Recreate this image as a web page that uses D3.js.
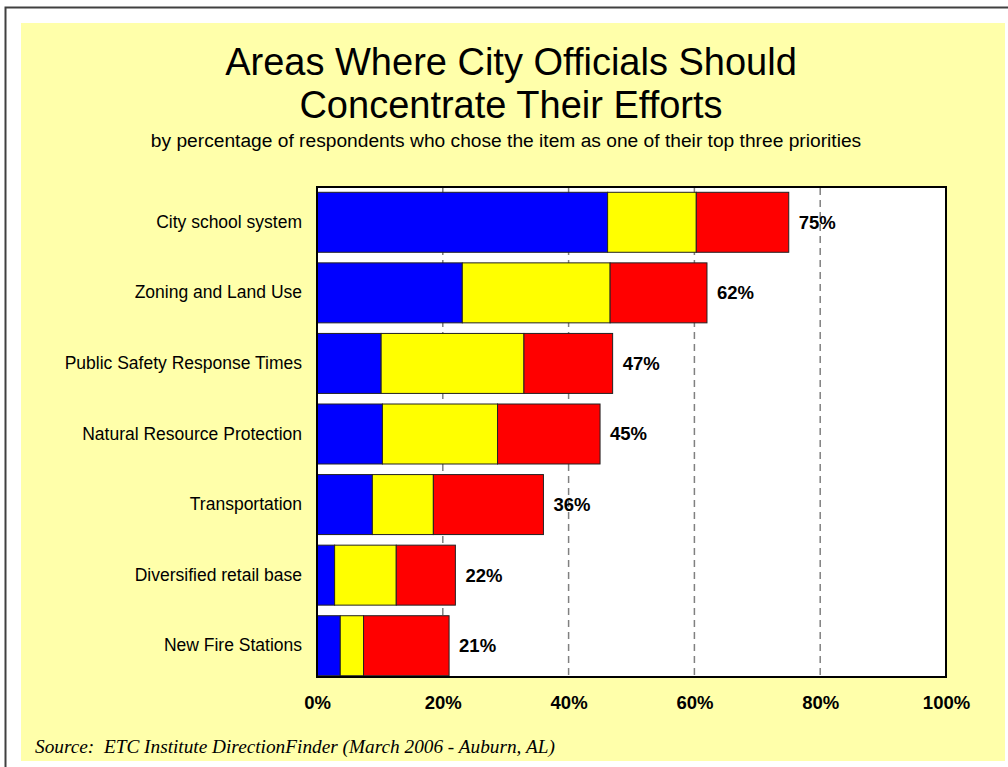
<!DOCTYPE html>
<html>
<head>
<meta charset="utf-8">
<script src="https://cdn.jsdelivr.net/npm/d3@7"></script>
<style>
  html, body { margin: 0; padding: 0; background: #ffffff; }
  svg { display: block; font-family: Arial, "Liberation Sans", sans-serif; }
</style>
</head>
<body>
<svg id="chart" width="1008" height="767"></svg>
<script>
// Survey items, top to bottom
const categories = [
  "City school system",
  "Zoning and Land Use",
  "Public Safety Response Times",
  "Natural Resource Protection",
  "Transportation",
  "Diversified retail base",
  "New Fire Stations"
];
// Percent choosing the item as 1st, 2nd and 3rd priority
const firstChoice  = [46.2, 23.1, 10.2, 10.4,  8.8, 2.8, 3.7];
const secondChoice = [14.1, 23.5, 22.7, 18.3,  9.7, 9.8, 3.7];
const thirdChoice  = [14.7, 15.4, 14.1, 16.3, 17.5, 9.4, 13.6];
const tickValues = [0, 20, 40, 60, 80, 100];
const gridValues = [20, 40, 60, 80];

const seriesKeys = ["first", "second", "third"];
const seriesColors = { first: "#0000ff", second: "#ffff00", third: "#ff0000" };

const rows = categories.map((c, i) => ({
  category: c,
  first: firstChoice[i],
  second: secondChoice[i],
  third: thirdChoice[i],
  total: firstChoice[i] + secondChoice[i] + thirdChoice[i]
}));

const svg = d3.select("#chart");

// Slide frame and panel
svg.append("path")
  .attr("d", "M5.5,767 V7.5 H1008")
  .attr("fill", "none")
  .attr("stroke", "#404040")
  .attr("stroke-width", 2);
svg.append("rect")
  .attr("x", 21).attr("y", 23)
  .attr("width", 984).attr("height", 738)
  .attr("fill", "#ffffaa");

// Title block
const titleLines = ["Areas Where City Officials Should", "Concentrate Their Efforts"];
svg.selectAll("text.title")
  .data(titleLines)
  .join("text")
  .attr("class", "title")
  .attr("x", 511)
  .attr("y", (d, i) => 75 + i * 43)
  .attr("text-anchor", "middle")
  .attr("font-size", 38)
  .attr("fill", "#000")
  .text(d => d);

svg.append("text")
  .attr("x", 506)
  .attr("y", 147)
  .attr("text-anchor", "middle")
  .attr("font-size", 19.2)
  .attr("fill", "#000")
  .text("by percentage of respondents who chose the item as one of their top three priorities");

// Scales
const x = d3.scaleLinear().domain([0, 100]).range([317, 946]);
const y = d3.scaleBand()
  .domain(categories)
  .range([187, 681])
  .paddingInner(0.15)
  .paddingOuter(0.075);

// Plot area
const plotTop = 187, plotBottom = 677;
svg.append("rect")
  .attr("x", x(0)).attr("y", plotTop)
  .attr("width", x(100) - x(0)).attr("height", plotBottom - plotTop)
  .attr("fill", "#ffffff");

// Dashed gridlines
svg.append("g")
  .selectAll("line")
  .data(gridValues)
  .join("line")
  .attr("x1", d => x(d)).attr("x2", d => x(d))
  .attr("y1", plotTop + 1).attr("y2", plotBottom - 1)
  .attr("stroke", "#808080")
  .attr("stroke-width", 1.5)
  .attr("stroke-dasharray", "7,5");

// Stacked bars
const stacked = d3.stack().keys(seriesKeys)(rows);
svg.append("g")
  .selectAll("g")
  .data(stacked)
  .join("g")
  .attr("fill", d => seriesColors[d.key])
  .selectAll("rect")
  .data(d => d)
  .join("rect")
  .attr("x", d => x(d[0]))
  .attr("y", d => y(d.data.category))
  .attr("width", d => x(d[1]) - x(d[0]))
  .attr("height", y.bandwidth())
  .attr("stroke", "#222")
  .attr("stroke-width", 1);

// Total labels
svg.append("g")
  .selectAll("text")
  .data(rows)
  .join("text")
  .attr("x", d => x(d.total) + 10)
  .attr("y", d => y(d.category) + y.bandwidth() / 2)
  .attr("dy", "0.35em")
  .attr("font-size", 18.5)
  .attr("font-weight", "bold")
  .attr("fill", "#000")
  .text(d => Math.round(d.total) + "%");

// Plot border
svg.append("rect")
  .attr("x", x(0)).attr("y", plotTop)
  .attr("width", x(100) - x(0)).attr("height", plotBottom - plotTop)
  .attr("fill", "none")
  .attr("stroke", "#000")
  .attr("stroke-width", 2);

// Category axis
const yAxis = svg.append("g")
  .attr("transform", `translate(${x(0)},0)`)
  .call(d3.axisLeft(y).tickSize(0).tickPadding(15));
yAxis.select(".domain").remove();
yAxis.selectAll("text")
  .attr("font-size", 17.5)
  .attr("font-family", "Arial, 'Liberation Sans', sans-serif")
  .attr("fill", "#000");

// Percent axis
const xAxis = svg.append("g")
  .attr("transform", `translate(0,${plotBottom})`)
  .call(d3.axisBottom(x).tickValues(tickValues).tickFormat(d => d + "%").tickSize(0).tickPadding(19));
xAxis.select(".domain").remove();
xAxis.selectAll("text")
  .attr("font-size", 18.5)
  .attr("font-weight", "bold")
  .attr("font-family", "Arial, 'Liberation Sans', sans-serif")
  .attr("fill", "#000");

// Source note
svg.append("text")
  .attr("x", 35)
  .attr("y", 753)
  .attr("font-family", "'Liberation Serif', 'Times New Roman', serif")
  .attr("font-style", "italic")
  .attr("font-size", 19.3)
  .attr("fill", "#000")
  .attr("xml:space", "preserve")
  .style("white-space", "pre")
  .text("Source:  ETC Institute DirectionFinder (March 2006 - Auburn, AL)");
</script>
</body>
</html>
